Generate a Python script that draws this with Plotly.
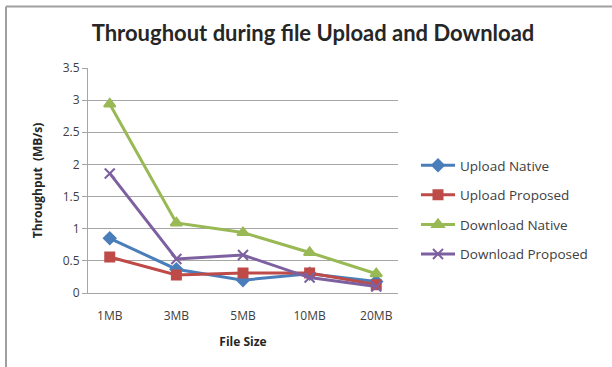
import plotly.graph_objects as go

# File sizes tested and measured throughput (MB/s)
file_sizes = ["1MB", "3MB", "5MB", "10MB", "20MB"]
upload_native = [0.85, 0.37, 0.20, 0.30, 0.18]
upload_proposed = [0.56, 0.28, 0.31, 0.31, 0.13]
download_native = [2.94, 1.09, 0.94, 0.63, 0.30]
download_proposed = [1.86, 0.53, 0.59, 0.24, 0.10]
y_ticks = [0, 0.5, 1, 1.5, 2, 2.5, 3, 3.5]

series = [
    ("Upload Native", upload_native, "#4A7EBB", "diamond", 9),
    ("Upload Proposed", upload_proposed, "#BE4B48", "square", 9),
    ("Download Native", download_native, "#98B954", "triangle-up", 10),
    ("Download Proposed", download_proposed, "#7D60A0", "x-thin-open", 10),
]

fig = go.Figure()
for name, vals, color, sym, size in series:
    fig.add_trace(go.Scatter(
        x=file_sizes, y=vals, name=name, mode="lines+markers",
        legendgroup=name,
        line=dict(color=color, width=3),
        marker=dict(symbol=sym, size=size, color=color,
                    line=dict(color=color, width=2)),
    ))

W, H = 612, 367
L, R, T, B = 88, 398, 68, 293

def px(x):
    return (x - L) / (R - L)

def py(y):
    return (B - y) / (B - T)

font_title = "Lato, 'Open Sans', sans-serif"
font_body = "'Open Sans', Lato, sans-serif"

fig.update_layout(
    width=W, height=H,
    margin=dict(l=L, r=W - R, t=T, b=H - B),
    paper_bgcolor="white", plot_bgcolor="white",
    font=dict(family=font_body, color="#404040", size=11),
    showlegend=True,
    legend=dict(x=px(416), y=py(150), xanchor="left", yanchor="top",
                font=dict(size=13.5, color="#404040", family=font_body),
                tracegroupgap=9, itemwidth=34,
                bgcolor="rgba(0,0,0,0)"),
    title=dict(text="<b>Throughout during file Upload and Download</b>",
               xref="paper", x=px(313), xanchor="center",
               y=1 - 33 / H, yanchor="middle",
               font=dict(size=22, color="#262626", family=font_title)),
    xaxis=dict(
        type="category", showgrid=False, showline=True,
        linecolor="#A6A6A6", linewidth=1, ticks="",
        ticklabelstandoff=12,
        tickfont=dict(size=12, color="#404040"),
        title=dict(text="<b>File Size</b>",
                   font=dict(size=12, color="#262626"), standoff=14),
    ),
    yaxis=dict(
        range=[0, 3.5], tickvals=y_ticks,
        ticktext=[f"{v:g}" for v in y_ticks],
        showgrid=True, gridcolor="#A6A6A6", gridwidth=1,
        showline=True, linecolor="#A6A6A6", linewidth=1,
        ticks="outside", ticklen=5, tickcolor="#A6A6A6",
        zeroline=False,
        tickfont=dict(size=12, color="#404040"),
        title=dict(text="<b>Throughput  (MB/s)</b>",
                   font=dict(size=12, color="#262626"), standoff=17),
    ),
)

# Outer chart frame: top and left edges
fig.add_shape(type="line", xref="paper", yref="paper",
              x0=px(6), x1=px(612), y0=py(6.5), y1=py(6.5),
              line=dict(color="#A0A0A0", width=2))
fig.add_shape(type="line", xref="paper", yref="paper",
              x0=px(6), x1=px(6), y0=py(6.5), y1=py(367),
              line=dict(color="#A0A0A0", width=2))

fig.write_html("out.html")
